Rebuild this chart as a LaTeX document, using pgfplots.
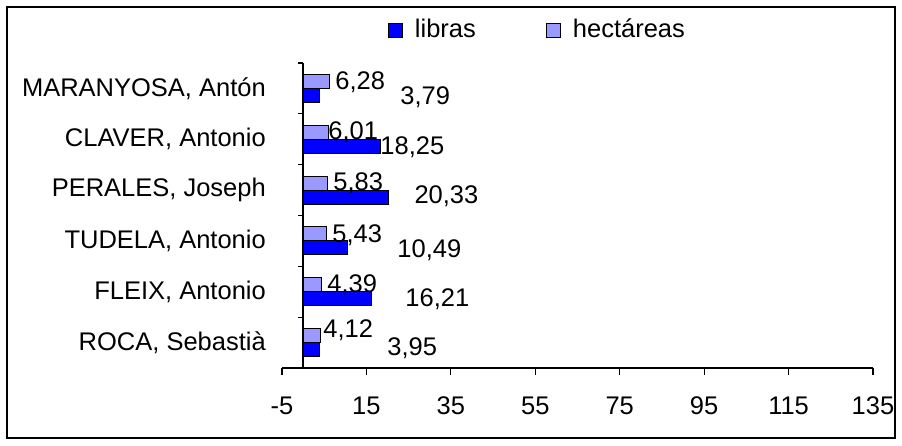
\documentclass[border=0pt]{standalone}
\usepackage{pgfplots}
\pgfplotsset{compat=1.18}
\usepackage{fontspec}
\setmainfont{Liberation Sans}
\definecolor{lib}{RGB}{0,0,255}
\definecolor{hec}{RGB}{153,153,255}
\pgfplotsset{sqlegend/.style={legend image code/.code={\draw[##1] (0pt,-7pt) rectangle (14pt,7pt);}}}
\begin{document}
\fontsize{25.5pt}{30pt}\selectfont
\begin{tikzpicture}[font=\fontsize{25.5pt}{30pt}\selectfont]
\useasboundingbox (0pt,0pt) rectangle (902pt,445pt);
\draw[line width=2pt] (7pt,7pt) rectangle (895pt,438pt);
\begin{axis}[
 at={(282pt,77pt)}, anchor=south west,
 scale only axis, width=591pt, height=305pt,
 xmin=-5, xmax=135, ymin=-0.5, ymax=5.5,
 axis x line*=bottom, axis y line*=left,
 y axis line style={draw=none},
 x axis line style={-, line width=1.5pt},
 xtick={-5,15,...,135},
 xticklabels={-5,15,35,55,75,95,115,135},
 tick align=outside,
 x tick style={black, line width=1.2pt},
 major tick length=7pt,
 xticklabel style={yshift=-13pt},
 ytick={0,...,5},
 yticklabels={{ROCA, Sebastià},{FLEIX, Antonio},{TUDELA, Antonio},{PERALES, Joseph},{CLAVER, Antonio},{MARANYOSA, Antón}},
 y tick style={draw=none},
 yticklabel style={inner sep=0pt, anchor=east, xshift=-9pt},
 clip=false,
 legend columns=2,
 legend style={draw=none, fill=none, at={(0.179,1.108)}, anchor=west, inner sep=0pt,
   /tikz/every odd column/.append style={column sep=10pt},
   /tikz/every even column/.append style={column sep=68pt}},
]
\addplot[xbar, bar width=14pt, bar shift=-7pt, fill=lib, draw=black, line width=1pt, sqlegend]
  coordinates {(3.95,0) (16.21,1) (10.49,2) (20.33,3) (18.25,4) (3.79,5)};
\addlegendentry{libras}
\addplot[xbar, bar width=14pt, bar shift=7pt, fill=hec, draw=black, line width=1pt, sqlegend]
  coordinates {(4.12,0) (4.39,1) (5.43,2) (5.83,3) (6.01,4) (6.28,5)};
\addlegendentry{hectáreas}
\draw[line width=1.5pt] (axis cs:0,-0.5) -- (axis cs:0,5.5);
\draw[line width=1.2pt] (axis cs:0,-0.5) -- ++(-5pt,0pt);
\draw[line width=1.2pt] (axis cs:0,0.5) -- ++(-5pt,0pt);
\draw[line width=1.2pt] (axis cs:0,1.5) -- ++(-5pt,0pt);
\draw[line width=1.2pt] (axis cs:0,2.5) -- ++(-5pt,0pt);
\draw[line width=1.2pt] (axis cs:0,3.5) -- ++(-5pt,0pt);
\draw[line width=1.2pt] (axis cs:0,4.5) -- ++(-5pt,0pt);
\draw[line width=1.2pt] (axis cs:0,5.5) -- ++(-5pt,0pt);
\node[anchor=west, inner sep=0pt] at (axis cs:7.6,5.126) {6,28};
\node[anchor=west, inner sep=0pt] at (axis cs:23.0,4.831) {3,79};
\node[anchor=west, inner sep=0pt] at (axis cs:5.93,4.143) {6,01};
\node[anchor=west, inner sep=0pt] at (axis cs:18.27,3.847) {18,25};
\node[anchor=west, inner sep=0pt] at (axis cs:7.12,3.139) {5,83};
\node[anchor=west, inner sep=0pt] at (axis cs:26.34,2.883) {20,33};
\node[anchor=west, inner sep=0pt] at (axis cs:6.88,2.116) {5,43};
\node[anchor=west, inner sep=0pt] at (axis cs:22.31,1.821) {10,49};
\node[anchor=west, inner sep=0pt] at (axis cs:5.70,1.132) {4,39};
\node[anchor=west, inner sep=0pt] at (axis cs:24.2,0.857) {16,21};
\node[anchor=west, inner sep=0pt] at (axis cs:4.75,0.247) {4,12};
\node[anchor=west, inner sep=0pt] at (axis cs:19.93,-0.107) {3,95};
\end{axis}
\end{tikzpicture}
\end{document}
